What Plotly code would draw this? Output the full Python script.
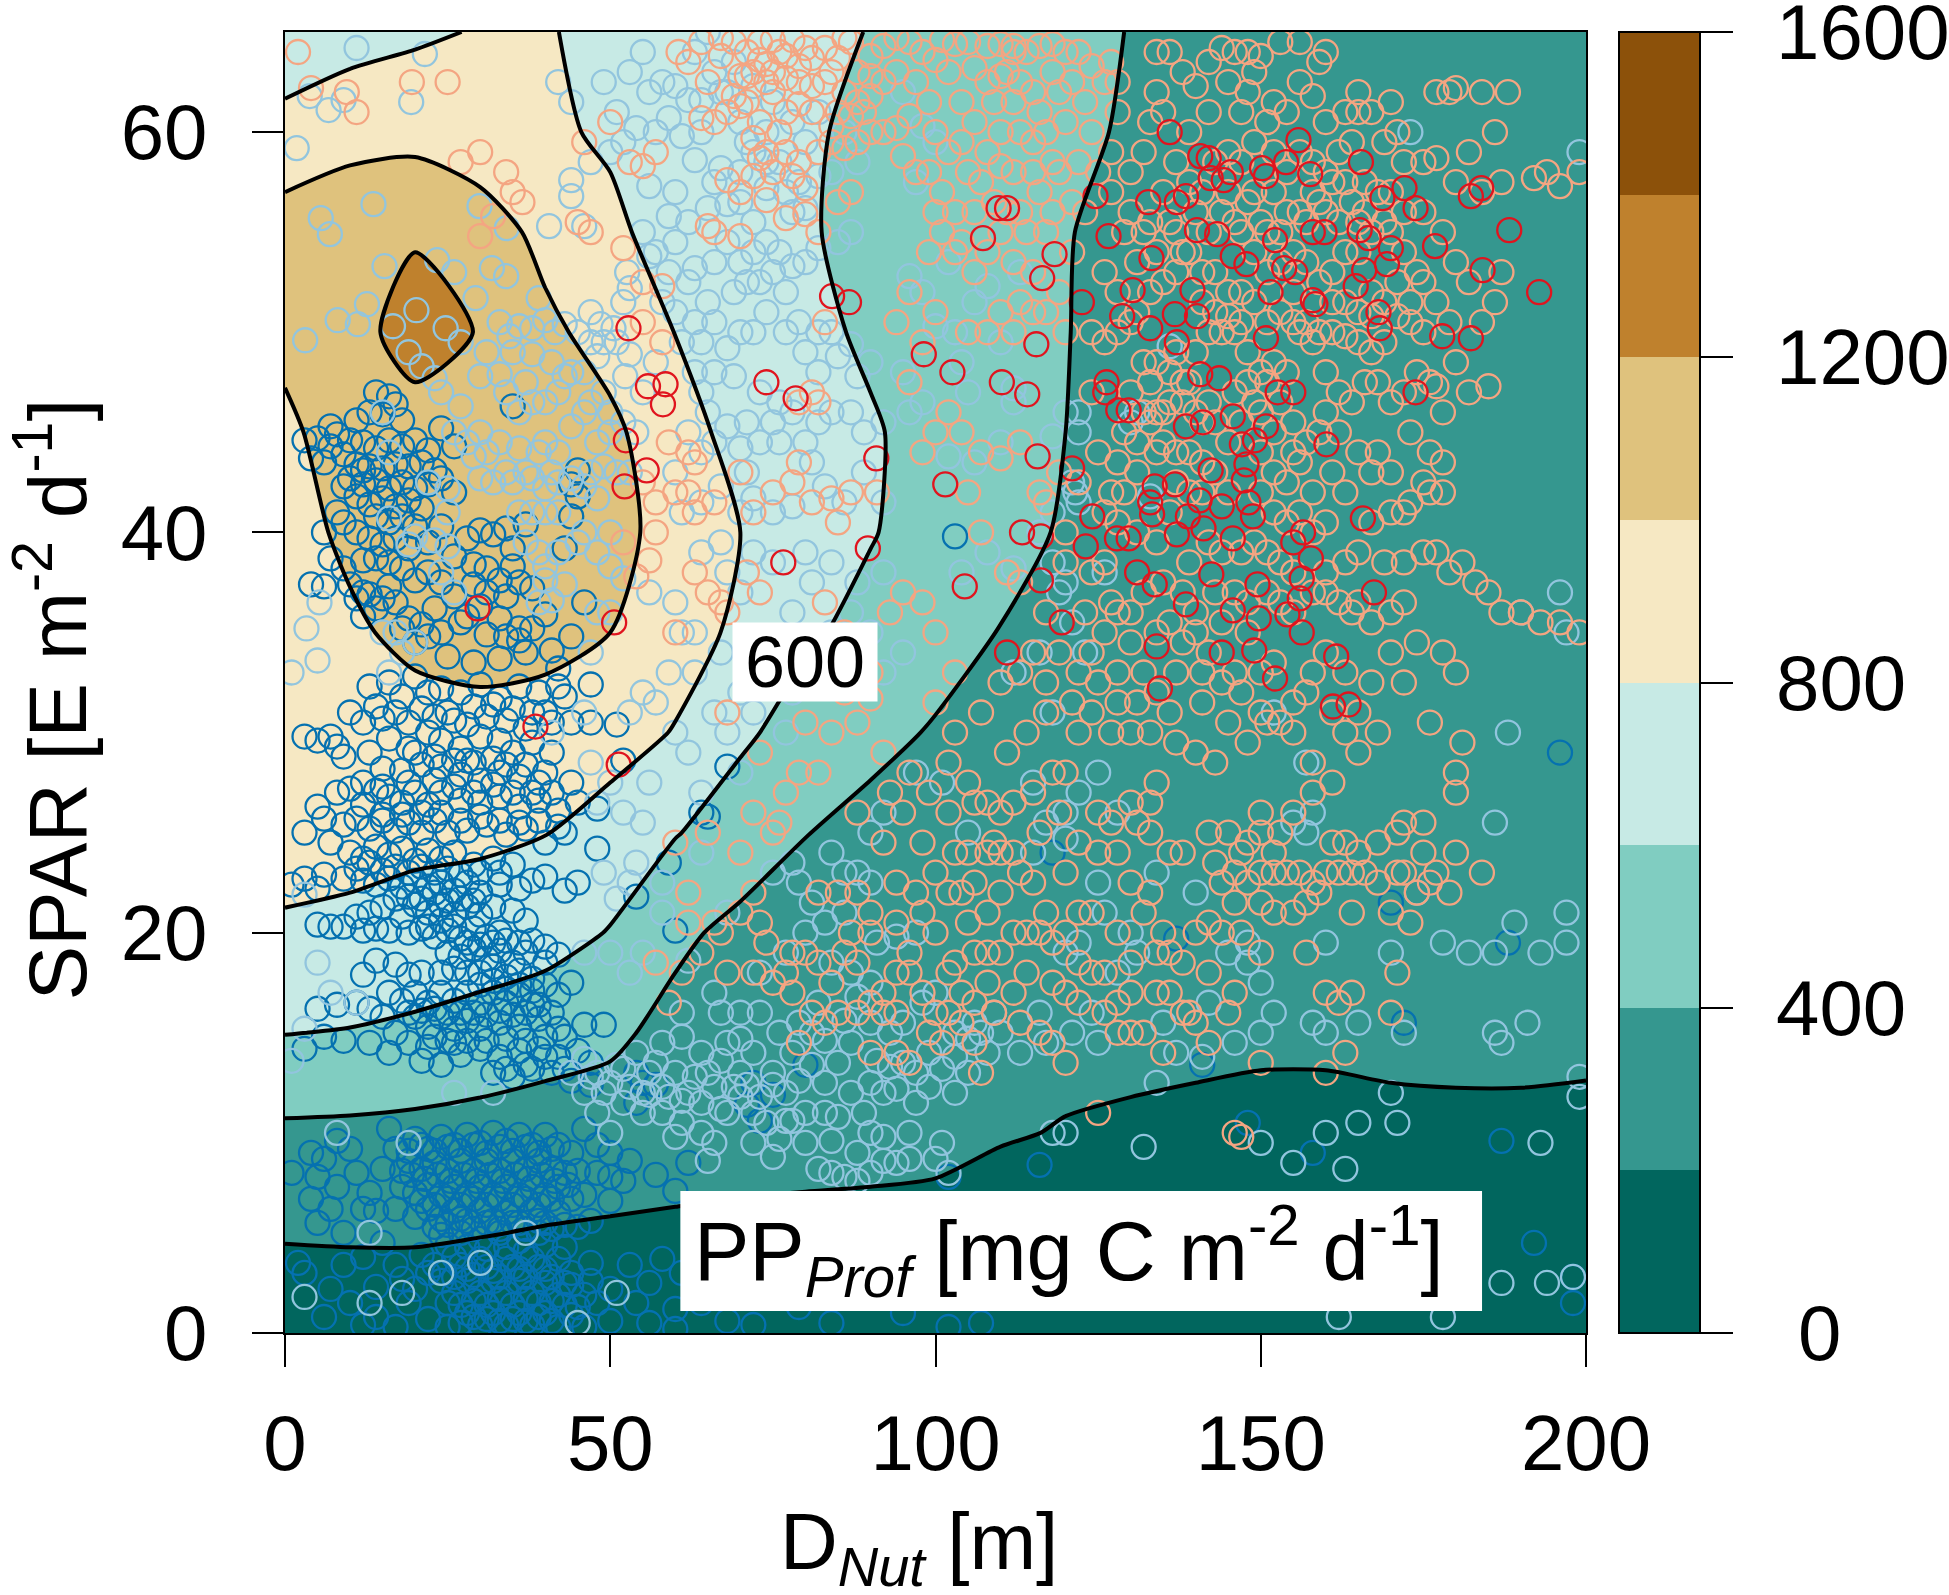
import plotly.graph_objects as go

grid_x = [0,10,20,30,40,50,60,70,80,90,100,110,120,130,140,150,160,170,180,190,200]
grid_y = [0,5,10,15,20,25,30,35,40,45,50,55,60,65]
pp_y0  = [50,50,50,50,50,45,45,45,40,40,40,40,40,40,40,40,40,40,40,40,40]
pp_y5  = [218,225,225,207,190,180,170,165,165,170,170,150,140,130,125,120,120,120,120,120,120]
pp_y10 = [365,360,350,340,325,300,285,265,250,235,225,208,195,190,185,175,175,180,182,182,178]
pp_y15 = [605,590,560,510,470,440,340,300,270,250,240,228,225,218,215,215,215,220,222,222,220]
pp_y20 = [790,780,750,730,680,590,440,350,315,290,272,258,248,240,235,230,228,228,228,226,224]
pp_y25 = [830,830,830,825,805,720,610,510,405,345,305,285,270,258,250,243,236,230,225,220,218]
pp_y30 = [850,900,935,950,945,880,790,630,530,450,385,340,310,290,275,260,250,240,232,225,220]
pp_y35 = [900,975,1040,1060,1040,1000,880,765,625,550,470,395,350,320,300,285,270,260,250,240,235]
pp_y40 = [940,1030,1070,1090,1080,1060,930,800,710,610,530,450,385,345,320,300,285,275,265,255,250]
pp_y45 = [960,1100,1120,1110,1080,1040,880,735,680,620,530,460,400,360,335,315,300,290,280,270,265]
pp_y50 = [1050,1130,1280,1190,1040,930,797,720,650,570,510,450,403,365,340,320,305,295,285,275,270]
pp_y55 = [1100,1160,1180,1090,950,830,740,680,620,540,500,450,405,370,345,325,312,300,292,285,280]
pp_y60 = [850,920,940,890,825,780,735,685,620,565,525,475,430,385,355,335,320,310,300,295,290]
pp_y65 = [700,730,770,812,808,770,730,685,640,595,540,490,445,395,370,350,335,320,310,305,300]
pp_grid = [pp_y0,pp_y5,pp_y10,pp_y15,pp_y20,pp_y25,pp_y30,pp_y35,pp_y40,pp_y45,pp_y50,pp_y55,pp_y60,pp_y65]

band_colors = ["#01665E","#35978F","#80CDC1","#C7EAE5","#F6E8C3","#DFC27D","#BF812D","#8C510A"]
bar_ticks = [0,400,800,1200,1600]
x_ticks = [0,50,100,150,200]
y_ticks = [0,20,40,60]

dark_pts = [
(35,46.3),(14,47),(16,46.8),(17,46.4),(13,46),(15,45.9),(18,45.6),(11,45.6),(8,44.9),(5,44.7),(3,44.6),(7,44.3),(10,44.6),(12,44.5),(14,44.2),(16,44.6),(18,44.3),(20,44.6),(22,44.1),(24,45.2),(26,44.3),
(4,43.7),(6,43.5),(9,43.9),(11,43.4),(13,43.3),(15,43.2),(17,43.4),(19,43.3),(21,43.5),(23,43.1),(10,42.7),(12,42.4),(14,42.6),(16,42.2),(18,42.5),(20,42.2),(22,42.4),(11,41.8),(13,41.4),(15,41.7),(17,41.3),(19,41.6),(21,41.2),(14,40.8),(16,40.5),(18,40.8),(20,40.3),(13,39.7),(15,39.4),(17,39.7),(19,39.2),(14,38.7),(16,38.5),(18,38.2),(12,38.6),(9,38.2),(7,38.7),(10,37.4),(6,37.3),(4,37.4),(16,37.3),(20,37.6),(17,36.5),(14,36.2),(12,35.8),(19,35.7),(21,35.4),(23,36.2),(11,36.7),
(26,38.8),(28,39.7),(30,40.1),(32,39.9),(34,40.2),(29,38.4),(31,38.2),(33,37.6),(35,38.3),(29,37.4),(31,37),(34,36.8),(30,36.3),(33,35.7),(27,35.5),(36,35.2),(38,37.2),(40,35.9),(37,34),(33,33.7),(29,33.5),(25,33.8),(42,33.2),(44,34.8),(46,36.5),(43,39.2),(44,40.8),(45,41.8),(45,43.1),(44,42.4),(36,34.6),(24,32.2),(27,32),
(20,32.8),(22,32),(18,31.8),(16,32.5),(14,31.3),(12,30.5),(10,31),(3,29.8),(5,29.6),(7,29.8),(8,29.3),(9,28.8),(30,32.4),(33,31.7),(36,32.3),(39,32),(42,32.3),(25,31),(28,30.4),(31,30.8),(34,30.6),(37,30.2),(40,31),(43,31.8),(47,32.4),(22,30),(24,29.6),(27,29.2),(30,29.8),(33,29.6),(35,29),(38,29.5),(41,29),(16,29.7),(19,29.2),(13,29),(15,28.2),(18,28.1),(21,28.4),(24,28.3),(27,27.9),(30,27.6),(33,28),(36,27.8),(39,27.5),(28,28.6),(32,28.7),(47,30.5),(51,30.4),(52,28.6),
(5,26.3),(6,25.7),(8,27),(10,27.2),(12,27.5),(14,27.1),(16,26.8),(18,26.5),(20,27),(22,26.4),(24,27),(27,26.6),(30,26.5),(33,26.8),(36,26.3),(39,26.6),(42,26.1),(45,26.5),(48,26.2),(3,25),(7,24.5),(9,25.4),(11,25.7),(13,25.2),(15,25.6),(17,25.1),(19,25.5),(21,25),(23,25.6),(25,25),(28,25.1),(31,25.4),(34,24.9),(37,25.2),(40,24.5),(43,25),(10,24),(12,23.7),(14,24.3),(16,23.9),(18,24.2),(20,23.6),(22,24.1),(24,23.7),(26,24),(29,23.4),(32,23.7),(35,23.4),(1,22.4),(3,22.7),(5,22.2),(12,22.6),(14,22.4),(16,22.7),(18,22.3),(20,22.6),(22,22.3),(24,22.5),(26,22.1),(28,22.5),(30,22),(33,22.4),(36,22.2),(38,22.6),(40,22.8),(43,22.1),(45,22.5),(48,24.2),(20,21.4),(22,21),(24,21.4),(26,20.9),(28,21.3),(30,20.9),(18,20.8),(15,21.3),(13,21),(11,20.8),(5,20.4),(7,20.3),(9,20.3),(12,20.1),(14,20.2),(16,20.1),(19,20),(21,20.2),(23,19.8),(25,20.1),(27,19.7),(29,20.2),(31,19.8),(33,20),(60,20.1),(54,21.8),(59,23.5),(65,25.8),(68,28.3),(64,26),
(25,19),(27,18.8),(29,19.2),(31,18.7),(33,19.1),(35,18.5),(37,19),(30,18),(32,18.3),(34,17.8),(36,18.1),(38,17.7),(40,18.5),(42,18.9),(44,17.5),(12,17.9),(16,17),(18,16.6),(20,17),(22,16.5),(24,17),(26,16.6),(28,17),(30,16.5),(32,17),(34,16.5),(36,16.9),(38,16.4),(5,16.2),(8,16.4),(11,16.5),(13,16.2),(15,15.8),(20,15.8),(22,15.3),(24,15.8),(26,15.2),(28,15.6),(30,15.2),(33,15.5),(36,15.3),(39,15.7),(42,15.2),(46,15.4),(49,15.4),(17,15),(19,14.5),(22,14.3),(25,14.6),(21,13.6),(24,13.4),(27,13.9),(30,14.2),(33,13.8),(36,14.1),(39,14.2),(42,13.8),(45,14.1),(32,13),(35,12.8),(38,13.2),(41,13),(44,12.6),(3,14.2),(6,14.8),(9,14.6),(13,14.5),(16,14),(54,13),(55,12.5),(57,12.4),(54,11.5),(75,11.9),(72,12.5),(80,13.4),(71,11.4),(73,10.6),
(4,9),(6,8.7),(8,9.6),(10,9.2),(5,7.8),(8,7.3),(11,8),(4,6.7),(7,6.2),(12,6.2),(15,8.2),(17,9.2),(18,8.1),(20,9.7),(22,9.2),(24,9.8),(26,9.4),(28,9.9),(30,9.5),(32,10),(34,9.6),(36,9.9),(38,9.4),(40,9.9),(42,9.4),(44,9),(19,8.6),(21,8.2),(23,8.5),(25,8.1),(27,8.6),(29,8.1),(31,8.6),(33,8.1),(35,8.6),(37,8.2),(39,8.6),(41,8.2),(43,8),(45,8.1),(48,8),(50,7.8),(52,7.6),(18,7.3),(20,7),(22,7.4),(24,6.9),(26,7.3),(28,6.9),(30,7.3),(32,6.9),(34,7.3),(36,6.9),(38,7.3),(40,6.9),(42,7.3),(44,6.7),(46,6.9),(50,6.6),(14,6.1),(17,6.2),(20,5.8),(22,6.2),(24,5.7),(26,6.1),(28,5.6),(30,6.1),(32,5.6),(34,6),(36,5.5),(38,6.1),(40,5.5),(42,6),(24,4.9),(27,5),(30,4.7),(33,5),(36,4.6),(39,5),(15,4.5),(9,3.4),(12,3.8),(17,3.4),(21,3.9),(23,3.4),(26,3.8),(28,3.2),(30,3.7),(32,3.1),(34,3.7),(36,3.2),(38,3.7),(40,3.2),(42,3.7),(44,3),(47,3.5),(3,3),(7,2.2),(10,1.5),(14,2.3),(18,2.7),(20,2.2),(24,2.6),(26,2),(28,2.6),(30,2),(32,2.6),(34,2),(36,2.6),(38,2),(40,2.5),(42,1.9),(44,2.4),(46,1.9),(48,1.5),(50,2.2),(54,1.5),(56,2.5),(60,1.2),(64,1.5),(14,0.8),(17,0.3),(22,0.7),(25,0.3),(28,1),(30,0.4),(32,1),(34,0.4),(36,1),(38,0.4),(40,1),(42,0.3),(44,0.9),(46,0.3),(50,0.6),(68,0.6),(72,0.4),(79,1.3),(84,0.5),(95,1),(102,0.3),(107,0.5),(116,8.4),(102,7.8),(158,9),(148,10.5),(170,21.5),(188,19.5),(196,29),(176,22.5),(187,9.6),(192,4.5),(198,1.5),(198,2.8),(172,15.5),(141,13.4),(137,19.7),(118,24),(103,39.8),
]
dark_more = [
(19,9.1),(21,9.4),(23,9.1),(25,9.3),(27,9.1),(29,9.4),(31,9),(33,9.3),(35,9.1),(37,9.3),(39,9),(41,9.2),(19.5,7.9),(21.5,7.7),(23.5,7.9),(25.5,7.6),(27.5,7.9),(29.5,7.6),(31.5,7.9),(33.5,7.6),(35.5,7.9),(37.5,7.7),(39.5,7.9),(41.5,7.6),(43.5,7.4),(21,6.6),(23,6.4),(25,6.7),(27,6.4),(29,6.7),(31,6.4),(33,6.7),(35,6.4),(37,6.7),(39,6.4),(41,6.7),(23,5.3),(25,5.4),(27,5.7),(29,5.2),(31,5.5),(33,5.2),(35,5.5),(37,5.2),(39,5.6),(41,5.2),(43,5.4),(45,5.3),(47,5.6),(25,4.4),(28,4.3),(31,4.2),(34,4.3),(37,4.1),(40,4.4),(43,4.3),(24.5,3),(27,3.4),(29,2.9),(31,3.3),(33,2.8),(35,3.3),(37,2.8),(39,3.3),(41,2.8),(43,2.5),(25,1.5),(27,1.4),(29,1.6),(31,1.4),(33,1.7),(35,1.4),(37,1.7),(39,1.5),(41,1.6),(43,1.4),(45,1.3),(47,2.6),(27,0.5),(29,0.8),(31,0.7),(33,0.6),(35,0.7),(37,0.6),(39,0.8),(41,0.6),(26,2.8),(22,3),(19,1.5),(12,0.4),(6,0.8),(53,3.4),(58,3.7),(61,3),(66,2.6),(69,1.8),(56,0.5),(60,0.2),(5,5.5),(9,5),(2,3.5),(13,7),(1,8),(16,10.2),(46,10.2),(48,9.4),(50,9),(53,8.6),(57,7.9),(60,7.1),(62,8.5),
(22,38),(24,37.5),(8,41),(6,40),(9,40.5),(11,40),(12,37),(13,36.9),(15,36.7),(18,35.2),(20,34.5),(22,34.8),(24,35),(26,36.8),(28,35.8),(31,34.9),(34,34.8),(38,35.2),(41,34.1),(35,39.2),(37,40.4),(36,37.5),(24,40.3),(22,39.5),(9,42.3),(12,43.1),(24,42.7),(26,42),(7,45.3),
(13,32.3),(15,30.7),(17,31),(19,30.5),(21,31.2),(23,30.8),(26,30.6),(29,31.3),(32,31.4),(35,31.2),(38,31),(41,30.5),(44,30.5),(20,29),(23,28.8),(26,28.6),(29,28.5),(34,28.4),(37,28.4),(40,28),(15,27.3),(19,27.5),(23,27.6),(26,27.3),(29,27),(32,27.4),(35,27),(38,27),(41,27),(44,27.5),(12,26.4),(15,25.9),(18,25.9),(21,26),(24,26),(27,25.6),(30,25.8),(33,25.6),(36,25.5),(39,25.6),(42,25.3),(6,22.9),(9,22.7),(11,23.2),(13,23.5),(15,23.1),(17,23.3),(19,23),(21,23.3),(23,23),(25,23.2),(27,22.9),(30,23),(33,23),(17,21.7),(19,21.8),(21,21.7),(23,22),(25,21.6),(27,21.7),(29,21.6),(32,21.3),(35,21.1),(37,20.6),(22,20.3),(24,20.6),(26,20.3),(28,19.5),(30,19.4),(32,19.5),(34,19.6),(36,19.5),(38,19.6),(40,19.3),(26,18.2),(28,18),(30,17.4),(32,17.6),(34,17.2),(36,17.4),(38,17.1),(40,17.4),(42,16.9),(21,18),(24,18),(19,17.9),(17,18.4),(14,18.6),(19,16),(21,16.1),(23,16.2),(25,16),(27,16),(29,16),(31,15.9),(33,16.1),(35,15.9),(37,16),(39,16.4),(41,16),(23,14.8),(26,14.5),(28,14.6),(31,14.6),(34,14.7),(37,14.6),(40,14.8),(43,14.8),(47,13.5),(34,13.2),(37,13.4),(40,13.8),(43,13.2),(47,12.4),
]
light_pts = [
(11,64.2),(21.5,63.9),(3.8,61.8),(6.7,61.1),(9,61.6),(19.4,61.5),(1.8,59.2),(5.5,55.7),(6.9,54.9),(13.6,56.4),(29.9,56.3),(34.1,55.2),(40.6,55.3),(44,57.6),(44,56.8),(46,55.3),(15.3,53.3),(23.4,53.6),(26,53),(31.8,53.2),(34,52.8),(29.3,51.7),(20.2,51.1),(24.7,50.2),(12.6,51.4),(8.1,50.6),(11.2,50.4),(3.1,49.6),(16.6,50.3),(39,51.7),(33,50.5),(34.5,49.8),(36,50.3),(38,50.2),(40,50.6),(41.5,50),(43,50.4),(35,49),(38,48.9),(31,49),(30,47.8),(33,47.9),(37,47.5),(41,48.5),(43,47.8),(47,46.5),(19,49),(21,48.3),(23,47.7),(27,49.5),(47,51),(48.5,50.4),(49,49.5),(50.5,50.2),(51,49.5),(48,48.8),(53,48.9),(52,51.5),(53,52.2),(52.6,53),(56,53.8),(52.3,47.8),(55,47),(57,48.5),(15,46),(24,47),(27,46.3),(30,45),(29,43.8),(33,44.5),(36,44.2),(40,44.5),(41,43),(44,45.3),(46,46),(48,44.5),(50,45),(49,43.3),(47,43),(38,42.7),(40,42.2),(42,42.5),(44,42.7),(46,42.3),(48,41.7),(35,42.5),(32,42.5),(30,42.7),(25,42.2),(22,42.5),(16,44),(16,40.7),(19,39.4),(20,39.8),(23,39.6),(25,39.3),(37,39.5),(39,39),(42,39),(45,39.5),(40,37.6),(39,36.5),(41,36.6),(43,37.4),(40,38.3),(50,38.3),(52,37.7),(5.3,36.5),(3.3,35.2),(1,33),(5,33.6),(18,34),(16,33),(20,34.5),(41,30),(46,31),(47,28.5),(50,27.5),(48,26.5),(52,26),(55,25.5),(56,27.5),(54,23.5),(58,22.5),(51,21.7),(53,22.5),(49,23),(3,21.9),(3,15.2),(1,13.6),(5,18.5),(11,16.5),(46,19),(50,19),(53,18),(55,19),(58,21),(62,18.6),(61,16),(66,17),(68,21),(64,24),(70,28),(72,31),
(56,62),(58,62.5),(60,62.3),(62,61.6),(64,61.6),(59,60.7),(61,59.8),(57,60),(54,60.2),(52,59.5),(50,59),(47,58.5),(44,61.5),(42,62.5),(49,62.5),(51,61),(66,63),(67,62),(69,63.5),(72,62.3),(75,61.5),(74,60),(78,60.5),(80,59.5),(76,58.5),(71,59.5),(70,58),(67,58.2),(63,58.6),(60,57),(56,57.3),(59,55.8),(62,55.5),(65,56.2),(68,56.4),(70,56.5),(72,55.5),(74,57.2),(77,57),(79,57.5),(80,56.2),(82,57.8),(60,54.5),(63,53.2),(62,52.5),(58,51.5),(60,51),(63,50.5),(65,51.5),(66,53.5),(68,54.5),(70,53.5),(72,54),(74,54.5),(76,54),(78,53.3),(80,53.5),(82,54.2),(85,54.5),(64,49.5),(66,48),(68,49.2),(69,47.8),(64,47),(65,46),(68,45.3),(70,44.2),(71,45.5),(73,47),(76,46.5),(77,50),(79,50.5),(82,50),(84,50),(85,48.8),(87,49.4),(80,49),(82,48),(88,47.8),(90,48.5),(76,44.5),(81,43.5),(83,42.3),(86,41.5),(89,43),(92,41.5),(67,42.3),(70,41),(72,41.7),(75,41),(78,41.3),(67,39.5),(64,39),(75,38.5),(70,37),(84,38.5),(87,36),(88,37.5),(92,38),(63,35),(67,34),(56,37),(60,36.5),(61,35),(63,33),(74,33),(78,32),(82,34),(84,35),(90,35),(92,33),(95,34),(92,45.5),(96,46),(98,46.5),(95,48),(103,50),(104,48.5),(105,47),(112,46.5),(110,49.5),(108,52.3),(106,51.5),(102,53.5),(100,50.3),(98,52),(96,52.8),(86,60),(88,58.5),(95,62),(98,60.3),(100,59.5),(97,57.5),(113,53),(112,47.2),(110,44.5),(106,43.5),(102,43.8),(104,38),(112,38.2),(108,39),(118,38.5),(120,37.5),(121,35.5),(123,34),(126,38),(130,45.5),(131,46),(120,46),(122,46),(122,45),(118,44.8),(121,42.5),(121.5,42),(122,41.5),(136,49.3),(133,41.8),(97,28),(101,27.5),(105,25),(115,27.5),(117,25.5),(120,24.7),(125,22.5),(134,23),(140,22),(145,19),(150,17.5),(157,28.5),(152,31),(155,25.5),(157,25),(158,26),(148,19.5),(148,18.5),(152,16),(160,19.5),(170,19),(174,22),(186,25.5),(178,19.5),(182,19),(186,19),(189,20.5),(193,19),(197,21),(197,19.5),(188,30),(190,36),(196,37),(197,35),(199,59),(173,60),(187,14.5),(186,15),(172,15),(191,15.5),(193,9.5),(199,12.8),(199,11.8),(194,2.5),(198,2.8),(187,2.5),(178,0.8),(162,0.8),(155,8.5),(160,10),(163,8.2),(171,10.5),(165,10.5),(170,12),(150,9.5),(132,9.3),(120,10),(118,10),
(46,13.7),(48,13),(50,12.5),(52,13.2),(54,14),(56,13),(58,12.3),(60,13),(62,12),(64,11.5),(66,12.3),(68,11),(70,11.8),(72,11),(74,10.5),(76,9.7),(78,10.6),(80,9.5),(82,8.2),(84,8),(86,7.8),(88,9),(90,10),(92,9.8),(94,8.5),(96,8.7),(100,8.7),(102,8),(52,11.5),(55,11),(58,11),(61,10.5),(64,10),(66,9.5),(48,11),(50,10),(46,12),(44,13),(58,14.5),(61,14.8),(64,14),(67,13.6),(70,13),(72,14),(75,13),(77,12),(80,11),(83,12.5),(85,13.5),(87,14.5),(90,12.5),(92,12),(94,12.2),(97,11.5),(99,12.3),(103,12),(105,13),(108,14),(110,15),(106,15.5),(103,15),(100,17),(98,16.5),(95,15.5),(93,15),(90,17.5),(87,18),(84,18.5),(82,16.5),(79,15.5),(76,15),(73,16),(70,16),(67,16),(80,20),(83,20.5),(86,21),(91,19.5),(94,19.8),(97,20),(75,23),(78,23.5),(84,24),(88,23),(90,25),(92,26),(113,14),(117,14.5),(121,15),(116,16),(124,16),(120,19),(122,19.5),(126,21),(130,20),(135,15.5),(142,16.5),(146,14.5),(150,15),(160,15),(165,15.5),(98,6),(30,3.5),(18,2),(3,1.8),(13,1.5),(24,3),(45,0.5),(51,2),(63,5),(37,5),(19,9.5),(32,12),(8,10),(13,5),(26,12),(7,17),
]
light_more = [
(47,12.8),(49,12),(51,13.4),(53,12.3),(55,12),(57,13.5),(59,11.8),(61,11.6),(63,12.8),(65,13),(67,11.2),(69,12.3),(71,12.4),(73,11.8),(75,12.4),(77,10.6),(79,12.6),(81,13.4),(83,11),(85,10.8),(87,12),(89,11),(91,13.6),(93,13.3),(95,13.5),(97,13),(99,14),(101,13.2),(103,13.8),(105,14.7),(107,15),(109,16),(78,14),(81,15),(83,14.6),(86,15.6),(88,16.8),(90,15.5),(68,14.5),(70,14.7),(56,11.9),(60,9.8),(65,8.6),(72,9.5),(75,8.8),(87,6.5),(90,8),(92,8.6),(101,9.5),(96,10),(88,7.6),(84,9.6),(73,18),(77,19),(81,21.5),(79,22.5),(86,23),(90,22.5),
(55,55),(57,54),(59,53),(61,49.5),(63,48),(66,50.5),(70,50),(72,50),(74,51),(69,52),(71,52.5),(73,52.5),(75,53),(77,52),(64,44),(66,44.5),(62,45),(60,43),(71,43),(73,44.5),(75,45.5),(78,46),(80,44.5),(82,45.5),(84,46),(87,46),(89,45),(61,41),(64,41.5),(68,38),(72,39),(80,39),(81,37.5),(78,36),(76,34.5),(66,31),(68,30),(70,32),(77,30),(59,33),(57,31.5),(60,30),(62,29),(64,27),(68,62),(70,60.5),(72,59),(74,58.5),(66,57.5),(64,60),(78,56),(82,61),(84,58),(87,55),(63,64),(55,64),(53,63),(65,65),
(26,45),(28,44.5),(31,44),(34,43),(37,43),(39,44),(42,44),(34,47),(36,46),(38,46.5),(40,46.5),(42,47),(44,48),(46,48),(45,50),(47,49.5),(49,47),(50,46),(52,45.5),(51,43),(53,43),(54,45),(36,41),(38,41),(40,41),(42,41),(46,40),(48,39),(50,40),(25,41),(24,38),(26,37),(17,35),(15,35),(48,36),(50,36),(47,34),(53,31),(55,32),
(116,40),(118,41),(119,37),(116,34),(112,33),(118,31),(115,24),(120,26),(122,27),(125,28),(128,26),(131,19),(128,18),(125,14.5),(137,14),(134,12.5),(141,13.8),(158,15.5),
]
salmon_pts = [
(9.5,62),(2,64),(4,62.2),(11,61),(19.5,62.5),(25,62.5),(30,59),(27,58.5),(34,58),(35,57),(36.5,56.5),(32,55.8),(30,54.8),(45,55.5),(47,55),(52,54.2),(46,59.5),(50,60.5),(57,59),(55,58.3),(53,58.5),(60.5,64),(64,64.5),(62,63.5),(67,63.8),(69,64.5),(70,62.8),(71,64),(73,64.5),(74,63.4),(76,64),(78,64.6),(80,64.2),(72,63),(74,62.5),(75,63),(77,62.7),(79,62.5),(81,63.7),(83,64.2),(85,63.7),(87,64.5),(75,64.6),(71,61.5),(73,60.5),(77,61),(79,61.4),(81,61),(84,60.3),(86,62),(88,63),(90,63.8),(92,64.3),(94,64.7),(96,64.5),(98,64),(100,63.6),(101,64.6),(103,64.4),(105,64.5),(108,64.3),(110,64.4),(112,64.3),(114,64),(116,64.3),(118,64.4),(120,64),(122,64),(124,63.3),(127,63.5),(128,62.5),(64,60.7),(66,60.5),(68,61),(70,61.3),(72,59.7),(73,58.7),(75,58),(77,59),(79,58.5),(72,57.8),(74,56.6),(70,57),(68,57.6),(77,55.7),(80,55.9),(70,54.8),(66,55),(65,55.3),(82,55),(85,56.5),(87,57),(90,61.8),(92,60),(94,60.2),(96,60.8),(95,58.8),(97,58),(99,58),(101,57),(103,56),(106,60.5),(109,61.5),(112,61.5),(115,62),(117,60),(120,60.5),(122,58.5),(124,60),(105,58),(108,59),(110,58.3),(112,58),(115,58),(118,58.5),(106,56),(109,56.5),(111,56),(113,56),(116,57),(118,56),(84,59.5),(86,59.2),(88,59.5),(89,61),(90,60),(99,54),(101,55),(103,54),(106,53),(108,54),(112,53.5),(115,53),(117,55),(121,54),(58,52.3),(55,52.5),(55,50.5),(58,49.5),(83,50.5),(79,46.5),(81,47),(82,46.5),(63,43.5),(62,42),(66,41.5),(70,43),(72,41),(75,42),(78,42.5),(79,43.5),(81,41.5),(84,41.7),(87,42),(85,40.5),(91,42),(55,42.5),(57,41.5),(60,42),(63,41),(57,40),(59,44.5),(62,44),(52,39.5),(54,37.8),(56,38.6),(63,38),(65,37),(67,36.5),(60,35),(68,36),(71,38),(73,37),(83,36.5),(86,35),(90,33),(93,36),(95,37),(98,36.5),(100,35),(103,33),(100,45),(102,46),(98,44),(104,45),(107,44),(110,43.7),(113,44.5),(116,42),(119,43),(96,47.5),(98,49.5),(100,51),(94,50.5),(96,52),(108,50),(110,51),(112,50),(115,51),(120,50),(105,42),(107,40),(111,38),(113,37.5),(117,41.5),(120,40),(122,42.5),(117,36),(115,34),(113,33),(110,32.5),(100,31.5),(103,30),(107,31),(102,28.5),(106,26.5),(108,24),(98,24.5),(95,26),(92,29),(88,30.5),(90,31.7),(86,32),(84,30),(82,28),(80,30.5),(79,28),(77,27),(72,26),(75,25),(70,24),(73,29),(68,31),(73,20.5),(67,20),(64,19),(61,18),(57,18.5),(59,16.5),(75,17.5),(78,17),(72,18),(70,21),(110,62.8),(112,64),(118,63),
(126,62.5),(128,61),(125,58),(127,59),(130,58),(132,59),(135,61),(137,58.5),(139,60),(138,63),(140,62.3),(142,63.5),(144,64.2),(146,64),(148,64),(150,63.8),(153,64.5),(134,62),(133,60.5),(142,61),(145,62.5),(147,61),(149,63),(151,60.5),(154,61),(156,62.5),(158,61.8),(160,60.5),(163,61),(165,62),(167,61),(170,61.5),(171,60),(169,59.5),(172,58.5),(175,58.5),(177,58.7),(180,57.5),(145,59),(147,58.5),(149,59.5),(152,59),(154,58),(156,59),(158,58.5),(160,58),(162,59),(164,59.5),(166,57.5),(168,57),(170,57),(172,56),(175,56),(178,55),(180,53.5),(182,52.5),(184,50.5),(186,51.5),(185,47.3),(180,48.5),(177,47.3),(175,50),(173,50.5),(171,50.8),(169,49.5),(167,49),(165,49.5),(163,49.8),(161,50),(182,59),(184,62),(186,60),(188,62),(177,62),(179,62),(180,62.2),(184,57),(192,57.7),(194,58),(196,57.3),(199,58),(187,57.5),(187,53),(176,44),(178,43.5),(175,42.5),(173,41.5),(170,41),(167,40.5),(165,39),(163,38.5),(160,38),(177,39),(179,38),(181,38.5),(183,37.5),(185,37),(187,36),(190,36),(193,35.5),(196,35.5),(199,35),(180,33),(178,34),(172,36.5),(170,36),(167,32.5),(165,31),(163,33),(160,34),(157,32),(155,31.5),(152,33.5),(150,33),(148,35),(146,33),(144,35.5),(142,34),(140,35),(137,33),(134,35),(132,33),(130,34.5),(128,33),(126,35),(124,34),(122,33),(119,34),(117,32.5),(141,31.5),(145,30.5),(148,29.5),(151,30.5),(155,30),(158,28.5),(161,27.5),(163,30),(165,29),(168,30),(172,32.5),(176,30.5),(180,28),(181,29.5),(136,31),(133,30),(130,30),(127,30),(124,31),(122,30),(120,28),
(130,56),(132,55),(134,54),(136,55.5),(138,54),(140,56),(142,55),(144,56),(146,55.5),(148,56.5),(150,55.5),(152,57),(154,56),(156,56),(158,57),(160,56),(162,55.5),(164,56.5),(166,56),(170,55),(172,54),(174,53),(126,53),(128,52),(131,53.5),(133,52),(135,52.5),(137,53),(139,54),(141,53),(143,53),(145,52),(147,52),(149,54),(151,53),(153,55),(155,54),(157,53.5),(159,52.5),(161,53),(163,54),(165,54),(167,52),(169,51.5),(124,50),(126,49.5),(128,50),(130,50.5),(132,48.5),(134,48.5),(136,48),(138,47.5),(140,49),(142,50),(144,50),(146,50),(148,49),(150,48),(152,48.5),(154,48),(156,50),(158,49.5),(160,48),(162,47),(164,46.5),(166,47.5),(168,47.5),(170,46.5),(172,47),(174,48),(176,47.5),(178,46),(124,47),(130,47),(132,46),(134,46),(136,46.5),(138,46.5),(140,46),(142,46.5),(146,47),(148,47.5),(150,46),(152,45),(155,45.5),(125,44),(128,43.5),(131,43),(134,44),(137,44),(139,44),(141,43.5),(143,43),(145,42),(150,44),(152,43),(154,42.5),(156,43.5),(158,42),(160,46),(162,45),(165,44),(168,44),(170,43),(126,41),(128,40.5),(131,40),(134,39.5),(136,41),(139,38.5),(142,39.5),(144,39),(147,39),(150,42),(152,41),(154,40.5),(156,41),(158,40),(160,40.5),(135,37.5),(138,37),(140,36),(143,37),(146,37),(148,36.5),(151,37),(153,36.5),(155,36),(160,37),(164,36),(167,35.5),(170,34),(174,34.5),(127,36.5),(130,36),(132,37),(124,38),(120,38.5),(126,38.5),
(117,31),(114,30),(111,29),(118,28),(115,27),(112,26.5),(109,24.5),(105,24),(103,24),(100,23),(97,22),(94,22.5),(92,24.5),(90,21),(88,22),(85,22),(82,22),(80,19),(84,17.5),(86,19),(88,18.5),(90,16.5),(92,17),(94,18),(96,18),(98,17),(100,16),(102,18),(104,17),(106,19),(108,17.5),(110,19),(112,17),(114,18),(116,20),(118,17.5),(120,17),(122,16.5),(124,18),(126,18),(128,15),(130,17),(132,15),(134,19),(136,17),(138,16),(140,15.5),(142,18),(144,20),(146,21.5),(148,22.5),(150,23),(152,23),(154,23),(156,23),(158,22.5),(160,23),(162,23),(164,23),(166,23),(168,22.5),(170,21),(172,23),(175,24),(177,23),(179,22),(152,21),(146,17),(150,19),(157,19),(155,21),(160,17),(162,16.5),(133,22),(135,20),(128,20),(124,21),(122,21),(120,20),(117,21),(125,24),(122,24.5),(120,23),(113,23),(110,24),(128,24),(131,25.5),(133,25),(136,24),(138,24),(142,25),(145,25),(147,24),(150,25),(127,25.5),(130,22.5),(133,26.5),(150,26),(155,26),(158,27),(163,24.5),(165,24),(148,24.5),(152,24),(171,23),(172,25.5),(175,25.5),(176,22.5),(184,23),(180,24),(180,27),(105,20.5),(100,20),(96,19),(90,20),(83,15.5),(78,19),(110,22),(108,21),(115,22.5),(130,15),(135,14),(125,11),(118,14.5),(146,10),(147,9.8),(164,17),(170,16),(171,18),(174,22),(139,16),(150,13.5),(160,13),(163,14),
(96,13.5),(103,18.5),(101,14.5),(106,16.5),(106,14.5),(107,13),(94,14),(92,16),(90,14),(85,16),(88,16),(77,18),(74,19.5),(68,18),(66,20.5),(62,20.5),(72,22),(76,25.5),(60,24.5),(65,25),(62,22),
]
salmon_more = [
(65,62.5),(67,64.7),(69,61.8),(71,62.8),(73,63.6),(75,62),(77,63.8),(79,63.3),(81,62.3),(83,62.5),(85,61),(87,60.8),(74,59),(76,60),(78,57.8),(80,57.2),(82,59),(84,63),(86,64.7),(88,61.5),(90,62.8),(92,62.5),(94,63),(97,62.5),(99,61.5),(102,63),(104,61.5),(106,63.2),(108,62.5),(111,63),(113,62.5),(116,61),(119,62),(121,62.5),(123,61.5),(100,60),(102,59),(104,59.5),(107,57.5),(110,60),(113,60),(115,59.5),(119,58),(121,56.5),(123,56),(100,56),(104,54.5),(110,55),(114,55),(119,52),(117,51),(113,51.5),(105,50),
(127,57),(129,55),(131,51),(133,55.5),(135,57),(137,55),(139,57.5),(141,57),(143,58.5),(145,57),(147,55),(149,57),(151,55),(153,53.5),(155,52),(157,55.5),(159,56.5),(161,57.5),(163,57.5),(165,55.5),(167,55),(169,55.5),(171,52.5),(173,51.5),(175,52.5),(177,51.5),(179,50.5),(141,51.5),(143,51),(145,50.8),(147,50.5),(149,51.5),(151,50.5),(153,51),(155,50.5),(157,50.5),(159,50),(161,51.5),(163,51.5),(165,51),(167,50.8),(133,47.5),(135,46),(137,49),(139,47.5),(141,45.5),(143,45.5),(145,44.5),(147,45.5),(149,46.5),(151,47.5),(153,46.5),(155,44),(157,44.5),(159,45),(161,43),(163,42),(137,42.5),(139,42),(141,42),(129,45),(131,44.5),(133,45.5),(135,44.5),(127,42),(129,42),(149,39.5),(151,39),(153,38.5),(155,38),(158,37),(162,36.5),(165,36.5),(136,35.5),(138,34.5),(141,33),(144,32.5),(147,32),(150,31),(153,30.5),(128,36),(123,36),(125,32.5),(121,31.5),(128,31.5),(131,31.5),(134,32),(137,29.5),(140,29),(143,28.5),(158,33),(161,31),(172,41),(175,39),(169,38.5),(172,38.5),(167,43),(173,45),(176,42),(178,42),(182,47),(165,61),(156,64.5),(159,63.5),(148,62),(152,61.5),(136,64),(134,64),(160,64),
(94,20.5),(98,21),(102,22),(104,22),(106,22.5),(108,19),(112,20),(114,20),(118,19.5),(122,18.5),(126,16),(128,16.5),(130,18.5),(132,21),(134,17),(136,19),(138,18.5),(140,20),(142,20.5),(144,22.5),(146,23),(150,21.5),(153,25),(157,21.5),(159,22),(161,24.5),(164,21),(168,24.5),(171,25),(173,20.5),(88,26),(93,27),(96,28),(99,27),(102,26),(105,27.5),(108,26.5),(110,26),(112,24),(116,25),(119,26),(125,26),(130,26.5),(134,27.5),(143,23.5),(147,20),(87,20),(82,18.5),(79,14.5),(81,16),(94,16),(99,15),(102,16),(104,15.5),(109,16),(113,15.5),(116,15),(120,13.5),(142,14.5),(145,16),
]
red_pts = [
(136,60),(140.7,58.8),(142,58.7),(142.3,57.7),(145.4,58),(144.3,57.6),(150.2,58.2),(150.8,57.8),(153.9,58.5),(155.8,59.6),(157.6,57.9),(165.4,58.5),(172.1,57.2),(173.8,56.2),(168.7,56.7),(182.3,56.8),(183.9,57.2),(188.2,55.1),(176.8,54.3),(184.1,53.1),(192.8,52),(169.4,53.4),(164.6,52.3),(165.9,53.1),(170,54.2),(165.2,55.1),(166.6,54.7),(159.8,55),(158,55),(155.3,53),(153.6,53.2),(151.5,52),(158.4,51.4),(158,51.6),(152.2,54.6),(147.8,53.4),(145.7,53.8),(143.3,54.9),(140.2,55.1),(137.1,56.5),(138.5,56.8),(132.7,56.5),(124.6,56.8),(126.6,54.8),(118.3,53.9),(116.4,52.7),(107.3,54.7),(109.7,56.2),(111,56.2),(133.2,53.7),(130.3,52.1),(122.5,51.5),(128.7,50.8),(133,50.2),(136.8,50.9),(140.2,50.8),(139.5,52.1),(115.5,49.4),(98.2,48.9),(102.6,48),(110.2,47.5),(114.1,46.9),(137.1,49.5),(150.8,49.7),(168.1,51),(168.3,50.2),(177.9,49.8),(182.3,49.7),(140.7,47.9),(143.6,47.7),(126.3,47.5),(126.1,47),(128.1,46.1),(129.7,46.1),(173.8,47),(152.6,47),(155,47),(145.7,45.8),(138.5,45.3),(141.1,45.5),(150.8,45.3),(149.1,44.6),(147.1,44.4),(160.1,44.4),(115.7,43.8),(121,43.2),(101.5,42.4),(147.8,43.4),(142.3,43.1),(147.4,42.6),(136.8,42.4),(133.7,42.3),(133,41.5),(133.3,40.9),(140.6,41.6),(144,41.3),(138.8,40.8),(148.1,41.5),(148.8,40.8),(141.2,40.2),(137.1,39.9),(165.7,40.7),(156.5,40),(155,39.5),(157.7,38.7),(156.3,37.7),(124.1,40.8),(113.3,40),(116.2,39.8),(123.1,39.3),(127.9,39.7),(129.7,39.7),(145.7,39.7),(131,38),(133.7,37.4),(142.4,37.9),(149.5,37.4),(167.4,37),(116.2,37.6),(104.5,37.3),(119.4,35.5),(138.5,36.4),(145.7,36.1),(149.7,35.7),(154.1,35.9),(156,36.7),(156.3,35),(111,34),(134,34.3),(144,34),(149,34.1),(161.6,33.8),(152.2,32.7),(134.5,32.2),(161.1,31.3),(163.5,31.4),
(52.8,50.2),(55.8,47.3),(58.5,47.4),(58.1,46.4),(52.4,44.6),(55.6,43.1),(52.2,42.3),(74,47.5),(78.5,46.7),(76.6,38.5),(84.1,51.8),(86.7,51.5),(90.9,43.7),(89.6,39.2),(29.6,36.2),(50.6,35.5),(38.5,30.3),(51.3,28.4),
]

def xs(pts): return [p[0] for p in pts]
def ys(pts): return [p[1] for p in pts]

FONT = "Liberation Sans"
fig = go.Figure()
n = len(band_colors)
scale = []
for i, c in enumerate(band_colors):
    scale += [[i/n, c], [(i+1)/n, c]]

fig.add_trace(go.Contour(
    x=grid_x, y=grid_y, z=pp_grid, zmin=0, zmax=1600, colorscale=scale, autocontour=False,
    contours=dict(start=0, end=1600, size=200, coloring="fill", showlines=False),
    line=dict(width=0, smoothing=0.7), hoverinfo="skip",
    colorbar=dict(x=(1619-284.5)/1301.5, xanchor="left", y=0.5, yanchor="middle", len=1, lenmode="fraction",
                  thickness=81, thicknessmode="pixels", xpad=0, ypad=0, outlinewidth=2, outlinecolor="black",
                  ticks="outside", ticklen=32, tickwidth=2, tickcolor="black",
                  tickmode="array", tickvals=bar_ticks, showticklabels=False)))

for pts, col in [(dark_pts+dark_more,"#0571B0"),(light_pts+light_more,"#92C5DE"),(salmon_pts+salmon_more,"#F4A582"),(red_pts,"#E0141E")]:
    fig.add_trace(go.Scatter(x=xs(pts), y=ys(pts), mode="markers", showlegend=False, cliponaxis=True,
        marker=dict(symbol="circle-open", size=24, color=col, line=dict(color=col, width=2.3))))

fig.add_trace(go.Contour(
    x=grid_x, y=grid_y, z=pp_grid, showscale=False, autocontour=False, hoverinfo="skip", xaxis="x2", yaxis="y2",
    colorscale=[[0,"black"],[1,"black"]], zmin=0, zmax=1600,
    contours=dict(start=200, end=1400, size=200, coloring="lines"),
    line=dict(width=4, color="black", smoothing=0.7)))

notes = [
    dict(xref="x", yref="y", x=80, y=33.5, text="600", showarrow=False, bgcolor="white", width=144, height=78,
         font=dict(family=FONT, size=72), borderpad=0),
    dict(xref="paper", yref="paper", x=(1069-284.5)/1301.5, y=(1333-1250)/1301, xanchor="center", yanchor="middle",
         text="PP<sub><i>Prof</i></sub> [mg C m<sup>-2</sup> d<sup>-1</sup>]", showarrow=False,
         font=dict(family=FONT, size=83)),
    dict(xref="paper", yref="paper", x=(919-284.5)/1301.5, y=(1333-1547)/1301, xanchor="center", yanchor="middle",
         text="D<sub><i>Nut</i></sub> [m]", showarrow=False, font=dict(family=FONT, size=80)),
    dict(xref="paper", yref="paper", x=(50-284.5)/1301.5, y=(1333-700)/1301, xanchor="center", yanchor="middle", textangle=-90,
         text="SPAR [E m<sup>-2</sup> d<sup>-1</sup>]", showarrow=False, font=dict(family=FONT, size=82)),
]
for v in bar_ticks:
    left = 1796 if v == 0 else 1774
    notes.append(dict(xref="paper", yref="paper", x=(left-284.5)/1301.5, y=v/1600, xanchor="left", yanchor="middle",
                      text=str(v), showarrow=False, font=dict(family=FONT, size=78)))

fig.update_layout(
    width=1949, height=1595, autosize=False, paper_bgcolor="white", plot_bgcolor="white", showlegend=False,
    margin=dict(l=284.5, r=363, t=32, b=262, pad=0, autoexpand=False),
    font=dict(family=FONT, size=78, color="black"),
    xaxis=dict(range=[0,200], tickvals=x_ticks, ticks="outside", ticklen=32, tickwidth=2, tickcolor="black",
               showgrid=False, zeroline=False, showline=True, linecolor="black", linewidth=2, mirror=True,
               tickfont=dict(family=FONT, size=78), ticklabelstandoff=9),
    yaxis=dict(range=[0,65], tickvals=y_ticks, ticks="outside", ticklen=31, tickwidth=2, tickcolor="black",
               showgrid=False, zeroline=False, showline=True, linecolor="black", linewidth=2, mirror=True,
               tickfont=dict(family=FONT, size=78), ticklabelstandoff=29),
    xaxis2=dict(range=[0,200], overlaying="x", visible=False),
    yaxis2=dict(range=[0,65], overlaying="y", visible=False),
    shapes=[dict(type="rect", xref="paper", yref="paper", layer="above", line=dict(width=0), fillcolor="white",
                 x0=(680-284.5)/1301.5, x1=(1482-284.5)/1301.5, y0=(1333-1311)/1301, y1=(1333-1191)/1301)],
    annotations=notes)
fig.write_html("out.html", post_script="document.body.style.margin='0';", config=dict(displayModeBar=False))
